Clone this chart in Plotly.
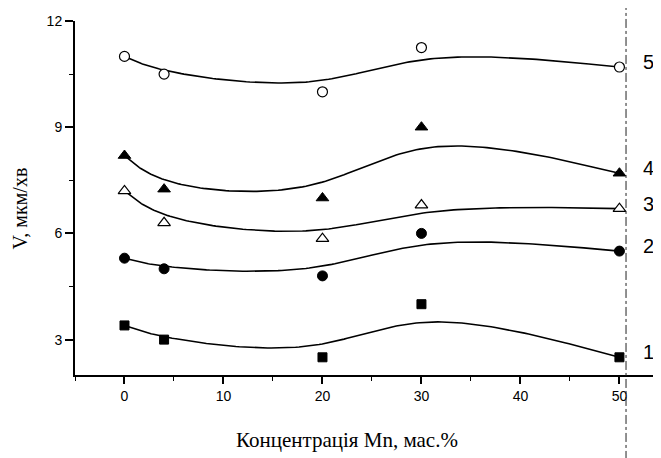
import numpy as np
import plotly.graph_objects as go

# ---- data ----
conc = [0, 4, 20, 30, 50]            # Mn concentration, mas.%
v1 = [3.4, 3.0, 2.5, 4.0, 2.5]
v2 = [5.3, 5.0, 4.8, 6.0, 5.5]
v3 = [7.2, 6.3, 5.85, 6.8, 6.7]
v4 = [8.2, 7.25, 7.0, 9.0, 7.7]
v5 = [11.0, 10.5, 10.0, 11.25, 10.7]
series_labels = ["1", "2", "3", "4", "5"]

x_ticks = [0, 10, 20, 30, 40, 50]
y_ticks = [3, 6, 9, 12]


def bspline(px, py, n=40):
    """Uniform cubic B-spline with tripled end control points (passes through ends)."""
    qx = [px[0]] * 2 + list(px) + [px[-1]] * 2
    qy = [py[0]] * 2 + list(py) + [py[-1]] * 2
    xs, ys = [], []
    t = np.linspace(0, 1, n)
    b0 = (1 - t) ** 3 / 6
    b1 = (3 * t ** 3 - 6 * t ** 2 + 4) / 6
    b2 = (-3 * t ** 3 + 3 * t ** 2 + 3 * t + 1) / 6
    b3 = t ** 3 / 6
    for i in range(len(qx) - 3):
        xs.extend(b0 * qx[i] + b1 * qx[i + 1] + b2 * qx[i + 2] + b3 * qx[i + 3])
        ys.extend(b0 * qy[i] + b1 * qy[i + 1] + b2 * qy[i + 2] + b3 * qy[i + 3])
    return xs, ys


series = [v1, v2, v3, v4, v5]
markers = [
    dict(symbol="square", size=9, color="black", line=dict(color="black", width=1)),
    dict(symbol="circle", size=10, color="black", line=dict(color="black", width=1)),
    dict(symbol="triangle-up", size=11, color="white", line=dict(color="black", width=1.2)),
    dict(symbol="triangle-up", size=11, color="black", line=dict(color="black", width=1)),
    dict(symbol="circle", size=10, color="white", line=dict(color="black", width=1.2)),
]

fig = go.Figure()
for vals, mk in zip(series, markers):
    cx, cy = bspline(conc, vals)
    fig.add_trace(go.Scatter(x=cx, y=cy, mode="lines",
                             line=dict(color="black", width=1.6),
                             hoverinfo="skip", showlegend=False))
    fig.add_trace(go.Scatter(x=conc, y=vals, mode="markers", marker=mk,
                             showlegend=False, cliponaxis=False))

# curve numbers at right
for lab, vals in zip(series_labels, series):
    fig.add_annotation(x=0.978, xref="paper", xanchor="center", y=vals[-1], yref="y",
                       text=lab, showarrow=False, yshift=5,
                       font=dict(family="Liberation Sans, Arial", size=20, color="black"))

# axis titles as annotations
fig.add_annotation(x=0.464, xref="paper", xanchor="center", y=-0.184, yref="paper",
                   yanchor="middle", text="Концентрація Mn, мас.%", showarrow=False,
                   font=dict(family="Liberation Serif, Times New Roman", size=21, color="black"))
fig.add_annotation(x=-0.094, xref="paper", xanchor="center", y=0.47, yref="paper",
                   yanchor="middle", text="V, мкм/хв", textangle=-90, showarrow=False,
                   font=dict(family="Liberation Serif, Times New Roman", size=20, color="black"))

# scan border line (dash-dot) at right
fig.add_shape(type="line", xref="paper", yref="paper", x0=0.9403, x1=0.9403,
              y0=-0.24, y1=1.07, line=dict(color="#222222", width=1, dash="dashdot"))

fig.update_xaxes(range=[-5, 54.2], tickvals=x_ticks, ticks="outside", ticklen=7,
                 tickwidth=1.5, tickcolor="black", showline=True, linecolor="black",
                 linewidth=2, showgrid=False, zeroline=False,
                 minor=dict(dtick=5, tick0=0, ticks="outside", ticklen=4, tickcolor="black", tickwidth=1.2),
                 tickfont=dict(family="Liberation Sans, Arial", size=14, color="black"))
fig.update_yaxes(range=[2, 12], tickvals=y_ticks, ticks="outside", ticklen=8,
                 tickwidth=1.5, tickcolor="black", showline=True, linecolor="black",
                 linewidth=2, showgrid=False, zeroline=False,
                 minor=dict(dtick=1.5, tick0=0, ticks="outside", ticklen=4, tickcolor="black", tickwidth=1.2),
                 tickfont=dict(family="Liberation Sans, Arial", size=14, color="black"))

# page body has an 8px default margin, so the figure is 8px smaller and shifted
fig.update_layout(width=653, height=450, margin=dict(l=67, r=0, t=13, b=83),
                  plot_bgcolor="white", paper_bgcolor="white")

fig.write_html("out.html")
